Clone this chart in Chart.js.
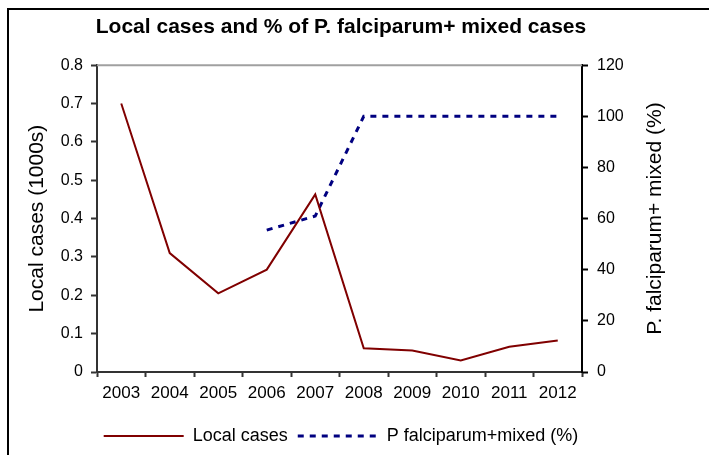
<!DOCTYPE html>
<html>
<head>
<meta charset="utf-8">
<script src="https://cdn.jsdelivr.net/npm/chart.js@4"></script>
<style>
  html, body { margin: 0; padding: 0; background: #fff; }
  .wrap { position: relative; width: 709px; height: 455px; }
  .frame {
    position: absolute; left: 7px; top: 8px; right: 0; bottom: 0;
    border-top: 2px solid #000; border-left: 2px solid #000;
    pointer-events: none;
  }
</style>
</head>
<body>
<div class="wrap">
  <canvas id="malaria-chart" width="709" height="455"></canvas>
  <div class="frame"></div>
</div>
<script>
// Data
const years = ["2003", "2004", "2005", "2006", "2007", "2008", "2009", "2010", "2011", "2012"];
const localCases = [0.70, 0.31, 0.205, 0.267, 0.463, 0.062, 0.056, 0.030, 0.066, 0.082];
const falciparumMixed = [null, null, null, 55.5, 61, 100, 100, 100, 100, 100];
const leftAxisRange = [0, 0.8, 0.1];
const rightAxisRange = [0, 120, 20];
const rightAxisTitle = "P. falciparum+ mixed (%)";

Chart.defaults.font.family = "'Liberation Sans', Arial, sans-serif";
Chart.defaults.color = "#000";

// Gray line along top of plot area
const topBorder = {
  id: "topBorder",
  afterDraw: (chart) => {
    const { ctx, chartArea } = chart;
    ctx.save();
    ctx.strokeStyle = "#a0a0a0";
    ctx.lineWidth = 2;
    ctx.beginPath();
    ctx.moveTo(chartArea.left, chartArea.top);
    ctx.lineTo(chartArea.right, chartArea.top);
    ctx.stroke();
    ctx.restore();
  },
};

// Right axis title, read bottom to top like the left one
const rightTitle = {
  id: "rightTitle",
  afterDraw: (chart) => {
    const { ctx, chartArea } = chart;
    const scale = chart.scales.y1;
    ctx.save();
    ctx.translate(scale.right - 27, (chartArea.top + chartArea.bottom) / 2);
    ctx.rotate(-Math.PI / 2);
    ctx.font = "21px 'Liberation Sans', Arial, sans-serif";
    ctx.fillStyle = "#000";
    ctx.textAlign = "center";
    ctx.textBaseline = "middle";
    ctx.fillText(rightAxisTitle, 0, 0);
    ctx.restore();
  },
};

const malariaChart = document.querySelector("#malaria-chart");
if (malariaChart) {
  new Chart(malariaChart, {
    type: "line",
    data: {
      labels: years,
      datasets: [
        {
          label: "Local cases",
          data: localCases,
          borderColor: "#800000",
          backgroundColor: "#800000",
          borderWidth: 2,
          pointRadius: 0,
          tension: 0,
          yAxisID: "y",
        },
        {
          label: "P falciparum+mixed (%)",
          data: falciparumMixed,
          borderColor: "#000080",
          backgroundColor: "#000080",
          borderWidth: 3,
          borderDash: [6, 6],
          pointRadius: 0,
          tension: 0,
          yAxisID: "y1",
        },
      ],
    },
    options: {
      responsive: false,
      animation: false,
      layout: { padding: { left: 0, right: 27, top: 0, bottom: 0 } },
      plugins: {
        title: {
          display: true,
          text: "Local cases and % of P. falciparum+ mixed cases",
          font: { size: 21, weight: "bold" },
          padding: { top: 15, bottom: 25 },
        },
        legend: {
          position: "bottom",
          labels: {
            usePointStyle: true,
            pointStyle: "line",
            pointStyleWidth: 80,
            font: { size: 18 },
            padding: 10,
            color: "#000",
            generateLabels: (chart) => {
              const items = Chart.defaults.plugins.legend.labels.generateLabels(chart);
              items.forEach((item) => {
                const ds = chart.data.datasets[item.datasetIndex];
                item.strokeStyle = ds.borderColor;
                item.lineWidth = ds.borderWidth;
                item.lineDash = ds.borderDash || [];
              });
              return items;
            },
          },
        },
        tooltip: { enabled: false },
      },
      scales: {
        x: {
          offset: true,
          afterFit: (scale) => { scale.height = 45; },
          grid: {
            offset: true,
            drawOnChartArea: false,
            tickLength: 5,
            color: "#333",
            tickWidth: 2,
          },
          border: { color: "#333", width: 2 },
          ticks: { font: { size: 17 }, padding: 6, maxRotation: 0 },
        },
        y: {
          position: "left",
          min: leftAxisRange[0],
          max: leftAxisRange[1],
          afterFit: (scale) => { scale.width = 97; },
          ticks: { stepSize: leftAxisRange[2], font: { size: 16 }, padding: 8 },
          grid: { drawOnChartArea: false, tickLength: 6, color: "#333", tickWidth: 2 },
          border: { color: "#333", width: 2 },
          title: {
            display: true,
            text: "Local cases (1000s)",
            font: { size: 21 },
            padding: { top: 25, bottom: 0 },
          },
        },
        y1: {
          position: "right",
          min: rightAxisRange[0],
          max: rightAxisRange[1],
          afterFit: (scale) => { scale.width = 100; },
          ticks: { stepSize: rightAxisRange[2], font: { size: 16 }, padding: 9 },
          grid: { drawOnChartArea: false, tickLength: 6, color: "#000", tickWidth: 2 },
          border: { color: "#000", width: 2 },
        },
      },
    },
    plugins: [topBorder, rightTitle],
  });
}
</script>
</body>
</html>
